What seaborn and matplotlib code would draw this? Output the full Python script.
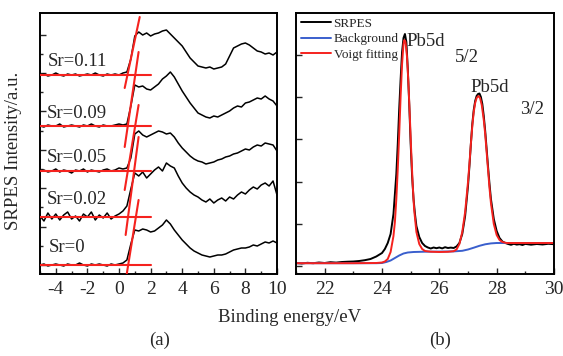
import numpy as np
import pandas as pd
import matplotlib
matplotlib.use("Agg")
import matplotlib.pyplot as plt
import seaborn as sns

# ---------------- Panel (a) data ----------------
energy_a = np.arange(-5, 10.01, 0.25)

labels_a = ["Sr=0.11", "Sr=0.09", "Sr=0.05", "Sr=0.02", "Sr=0"]

sr011 = [199, 200, 198, 199, 201, 199, 198, 200, 199, 200, 198, 199, 200, 199, 201, 199, 198, 200, 199, 200, 199, 201,
         202, 215, 238, 242, 239, 241, 238, 240, 241, 243, 244, 240, 236, 232, 228, 222, 216, 212, 208, 207, 206, 207,
         205, 206, 207, 210, 218, 226, 228, 230, 231, 229, 226, 223, 222, 220, 221, 219, 222]
sr009 = [148, 147, 149, 148, 148, 150, 147, 148, 149, 148, 147, 149, 148, 150, 148, 147, 149, 148, 148, 149, 150, 149,
         150, 168, 189, 187, 188, 185, 184, 187, 190, 195, 198, 202, 197, 190, 183, 177, 171, 166, 161, 159, 157, 156,
         158, 157, 159, 161, 163, 166, 168, 167, 171, 172, 174, 176, 175, 178, 175, 173, 168]
sr005 = [103, 104, 102, 103, 105, 102, 104, 103, 101, 104, 103, 105, 102, 104, 103, 102, 104, 105, 103, 104, 106, 105,
         106, 116, 140, 143, 139, 137, 139, 141, 143, 142, 140, 141, 137, 131, 126, 122, 118, 115, 113, 112, 110, 111,
         112, 114, 115, 117, 118, 120, 121, 123, 125, 124, 127, 129, 128, 131, 130, 129, 123]
sr002 = [58, 53, 61, 55, 60, 54, 59, 62, 55, 58, 53, 60, 57, 62, 54, 59, 56, 61, 55, 58, 60, 63,
         68, 85, 101, 98, 102, 96, 100, 104, 107, 103, 111, 108, 106, 98, 91, 86, 82, 79, 77, 74, 72, 75,
         71, 74, 76, 73, 77, 75, 79, 82, 80, 84, 87, 85, 89, 91, 88, 93, 79]
sr000 = [9, 10, 8, 9, 10, 9, 8, 10, 9, 9, 11, 9, 8, 10, 9, 10, 9, 8, 10, 9, 10, 11,
         14, 30, 44, 43, 45, 44, 42, 43, 46, 49, 54, 50, 44, 39, 34, 30, 26, 23, 21, 19, 18, 17,
         18, 19, 19, 20, 22, 24, 25, 26, 26, 27, 29, 28, 30, 32, 31, 33, 31]
spectra_a = [sr011, sr009, sr005, sr002, sr000]

# baseline (horizontal) fit lines and edge (slanted) fit lines
baselines_a = [199, 148, 103, 57, 9]
base_x = [-5, 2]
edge_x0 = [0.36, 0.36, 0.36, 0.42, 0.49]
edge_x1 = [1.31, 1.24, 1.24, 1.24, 1.24]
edge_y0 = [186, 127, 84, 39, 0]
edge_y1 = [257, 222, 169, 137, 74]
label_x = [-4.5, -4.6, -4.6, -4.6, -4.45]
label_y = [212, 161, 116, 75, 27]

# ---------------- Panel (b) data ----------------
srpes_x = [21.0, 21.2, 21.4, 21.6, 21.8, 22.0, 22.2, 22.4, 22.6, 22.8, 23.0, 23.2, 23.4, 23.6, 23.8, 24.0, 24.1,
           24.2, 24.3, 24.4, 24.5, 24.55, 24.6, 24.65, 24.7, 24.75, 24.8, 24.85, 24.9, 24.95, 25.0, 25.05, 25.1,
           25.15, 25.2, 25.3, 25.4, 25.5, 25.6, 25.7, 25.8, 25.9, 26.0, 26.1, 26.2, 26.3, 26.4, 26.5, 26.6, 26.7,
           26.8, 26.9, 27.0, 27.05, 27.1, 27.15, 27.2, 27.25, 27.3, 27.35, 27.4, 27.45, 27.5, 27.55, 27.6, 27.65,
           27.7, 27.75, 27.8, 27.9, 28.0, 28.1, 28.2, 28.3, 28.4, 28.5, 28.6, 28.7, 28.8, 28.9, 29.0, 29.2, 29.4,
           29.6, 29.8, 30.0]
srpes_y = [11, 10.5, 11.2, 10.8, 11.5, 11, 11.8, 11.4, 12, 12.3, 12.5, 13, 13.8, 15, 17.5, 21, 25,
           31, 40, 60, 100, 130, 165, 195, 222, 236, 240, 232, 205, 170, 130, 98, 75,
           60, 48, 37, 31, 28, 26.5, 25.5, 26.5, 25.8, 26.5, 25.6, 26.8, 26, 26.4, 26, 27.5, 31,
           40, 58, 88, 108, 130, 150, 164, 173, 178, 180, 180.5, 177, 170, 158, 143, 125,
           107, 90, 75, 55, 43, 36, 32.5, 31, 30, 29.2, 30.2, 29.4, 29.8, 29, 30.1, 29.3, 30,
           29.5, 30.2, 29.8]

voigt_x = [21.0, 23.0, 23.8, 24.0, 24.1, 24.2, 24.3, 24.4, 24.45, 24.5, 24.55, 24.6, 24.65, 24.7, 24.75, 24.78,
           24.82, 24.87, 24.92, 24.97, 25.02, 25.07, 25.12, 25.2, 25.3, 25.4, 25.5, 25.7, 26.0, 26.3, 26.5, 26.6,
           26.7, 26.8, 26.9, 27.0, 27.05, 27.1, 27.15, 27.2, 27.25, 27.3, 27.36, 27.42, 27.48, 27.55, 27.6, 27.65,
           27.7, 27.75, 27.8, 27.9, 28.0, 28.1, 28.2, 28.35, 28.6, 30.0]
voigt_y = [10.8, 10.8, 11, 11.5, 12.5, 15, 22, 38, 52, 75, 105, 140, 178, 210, 230, 234,
           232, 218, 192, 158, 122, 90, 65, 42, 30, 25, 23, 22.3, 22, 22.2, 22.8, 24.5,
           30, 42, 62, 92, 110, 130, 148, 162, 171, 176, 178, 176, 169, 154, 140, 122,
           104, 86, 71, 50, 39, 34, 32, 31, 31, 31]

bg_x = [21.0, 23.8, 24.0, 24.15, 24.3, 24.45, 24.6, 24.75, 24.9, 25.1, 25.5, 26.0, 26.5, 26.8, 27.0, 27.2,
        27.4, 27.6, 27.8, 28.0, 30.0]
bg_y = [10.8, 10.8, 11, 12, 13.5, 16, 18.5, 20.5, 21.5, 22, 22.3, 22.4, 22.6, 23.2, 24.5, 26.3,
        28.2, 29.7, 30.6, 31, 31]

# ---------------- Style ----------------
sns.set_style("ticks")
plt.rcParams['font.family'] = ['Liberation Serif', 'DejaVu Serif']
plt.rcParams['axes.unicode_minus'] = False

RED = "#f5221e"
BLUE = "#3a5fcd"

W, H = 563, 356
fig = plt.figure(figsize=(W / 100, H / 100), dpi=100)
fig.patch.set_facecolor("white")

axa = fig.add_axes([40 / W, 1 - 274 / H, 237 / W, 261 / H])
axb = fig.add_axes([296 / W, 1 - 274 / H, 258 / W, 261 / H])

# ---- Panel (a)
rows = []
for lab, ys in zip(labels_a, spectra_a):
    for e, v in zip(energy_a, ys):
        rows.append({"energy": e, "intensity": v, "sample": lab})
df_a = pd.DataFrame(rows)
sns.lineplot(data=df_a, x="energy", y="intensity", units="sample", estimator=None,
             color="black", linewidth=1.1, ax=axa, legend=False)

for i in range(len(labels_a)):
    axa.plot(base_x, [baselines_a[i], baselines_a[i]], color=RED, linewidth=1.5, zorder=4)
    axa.plot([edge_x0[i], edge_x1[i]], [edge_y0[i], edge_y1[i]], color=RED, linewidth=1.5, zorder=4)
    axa.text(label_x[i], label_y[i], labels_a[i], fontsize=13.5, va="center", ha="left")

axa.set_xlim(-5, 10)
axa.set_ylim(0, 261)
axa.set_xticks([-4, -2, 0, 2, 4, 6, 8, 10])
axa.set_xticks([-5, -3, -1, 1, 3, 5, 7, 9], minor=True)
axa.set_yticks([9 + 38.4 * k for k in range(7)])
axa.set_yticks([28.2 + 38.4 * k for k in range(6)], minor=True)
axa.set_yticklabels([])
axa.set_xlabel("")
axa.set_ylabel("SRPES Intensity/a.u.", fontsize=13.5)
axa.yaxis.set_label_coords(-0.075, 0.47)

# ---- Panel (b)
df_s = pd.DataFrame({"energy": srpes_x, "intensity": srpes_y, "curve": "SRPES"})
df_bg = pd.DataFrame({"energy": bg_x, "intensity": bg_y, "curve": "Background"})
df_v = pd.DataFrame({"energy": voigt_x, "intensity": voigt_y, "curve": "Voigt fitting"})
df_b = pd.concat([df_s, df_bg, df_v], ignore_index=True)
sns.lineplot(data=df_b, x="energy", y="intensity", hue="curve",
             palette={"SRPES": "black", "Background": BLUE, "Voigt fitting": RED},
             estimator=None, sort=False, linewidth=1.4, ax=axb)

axb.set_xlim(21, 30)
axb.set_ylim(0, 261)
axb.set_xticks([22, 24, 26, 28, 30])
axb.set_xticks([21, 23, 25, 27, 29], minor=True)
axb.set_yticks([8, 50.2, 92.4, 134.6, 176.8, 219])
axb.set_yticklabels([])
axb.set_xlabel("")
axb.set_ylabel("")

axb.text(24.87, 232, "Pb5d", fontsize=13.5, va="center", ha="left")
axb.text(26.55, 217, "5/2", fontsize=13.5, va="center", ha="left")
axb.text(27.07, 186, "Pb5d", fontsize=13.5, va="center", ha="left")
axb.text(28.81, 164, "3/2", fontsize=13.5, va="center", ha="left")

leg = axb.legend(loc="upper left", frameon=False, fontsize=9.5, handlelength=2.3,
                 handletextpad=0.2, borderaxespad=0.05, borderpad=0.3, labelspacing=0.25)
for h in leg.get_lines():
    h.set_linewidth(1.4)

for ax in (axa, axb):
    for s in ax.spines.values():
        s.set_linewidth(1.4)
        s.set_color("black")
        s.set_visible(True)
    ax.tick_params(axis="both", which="major", direction="in", length=4, width=1,
                   labelsize=14, pad=5, right=False, top=False)
    ax.tick_params(axis="both", which="minor", direction="in", length=2.5, width=1,
                   right=False, top=False)
    ax.tick_params(axis="y", which="both", labelleft=False)

fig.text(290 / W, 1 - 317 / H, "Binding energy/eV", fontsize=13.5, ha="center", va="center")
fig.text(160 / W, 1 - 340 / H, "(a)", fontsize=13.5, ha="center", va="center")
fig.text(440 / W, 1 - 340 / H, "(b)", fontsize=13.5, ha="center", va="center")

fig.savefig("out.png", dpi=100, facecolor="white")
